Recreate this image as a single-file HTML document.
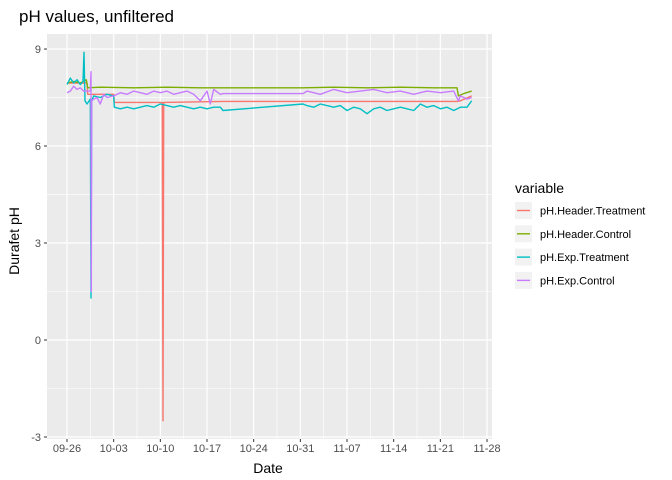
<!DOCTYPE html>
<html><head><meta charset="utf-8"><style>
body{margin:0;background:#fff;}
svg{display:block;font-family:"Liberation Sans",sans-serif;}
</style></head><body>
<svg id="c" width="672" height="480">
<text x="19" y="22" font-size="17" fill="#000">pH values, unfiltered</text>
<rect x="47" y="34" width="445" height="405" fill="#ebebeb"/>
<g id="grid"></g><g id="series"></g><g id="axes"></g>
<text x="268" y="473" font-size="14" text-anchor="middle">Date</text>
<text transform="translate(19,241) rotate(-90)" font-size="14" text-anchor="middle">Durafet pH</text>
<g id="legend">
<text x="515" y="193" font-size="14">variable</text>
</g>
</svg>
<script>
const xTickLabels=["09-26","10-03","10-10","10-17","10-24","10-31","11-07","11-14","11-21","11-28"];
const yTicks=[-3,0,3,6,9];
const seriesNames=["pH.Header.Treatment","pH.Header.Control","pH.Exp.Treatment","pH.Exp.Control"];
const seriesColors=["#F8766D","#7CAE00","#00BFC4","#C77CFF"];
const redT=[0,2,3,3.1,7,7.1,14.3,14.4,14.5,23.4,35.4,45,58.5,59,60.7];
const redV=[7.95,7.95,7.95,7.6,7.6,7.35,7.35,-2.5,7.35,7.38,7.38,7.38,7.38,7.4,7.55];
const greenT=[0,1,2,2.5,2.9,3.1,5,10,15,20,23.4,35.4,40,45,50,55,58.5,58.7,59.5,60.7];
const greenV=[7.95,8.0,7.95,8.0,8.05,7.8,7.82,7.8,7.82,7.8,7.8,7.8,7.82,7.8,7.82,7.8,7.8,7.55,7.62,7.7];
const cyanT=[0,0.5,1,1.5,2,2.4,2.55,2.7,3,3.5,3.6,3.7,4,5,6,7,7.1,8,9,10,11,12,13,14,15,16,17,18,19,20,21,22,23,23.4,35.4,36,37,38,39,40,41,42,43,44,45,46,47,48,49,50,51,52,53,54,55,56,57,58,59,60,60.7];
const cyanV=[7.9,8.1,7.95,8.05,7.9,8.0,8.9,7.4,7.3,7.45,1.3,7.4,7.55,7.5,7.6,7.55,7.2,7.15,7.2,7.15,7.2,7.25,7.2,7.3,7.25,7.2,7.25,7.2,7.15,7.2,7.15,7.2,7.2,7.1,7.3,7.25,7.2,7.3,7.25,7.2,7.25,7.1,7.2,7.15,7.0,7.15,7.2,7.1,7.15,7.2,7.15,7.1,7.3,7.2,7.25,7.15,7.2,7.1,7.2,7.2,7.4];
const purpleT=[0,0.5,1,1.5,2,2.5,3.5,3.6,3.65,3.7,4,4.5,5,5.5,6,7,8,9,10,11,12,13,14,15,16,17,18,19,20,21,21.5,22,23,23.4,35.4,36,38,40,42,44,46,48,50,52,54,56,58,58.7,59,59.5,60,60.7];
const purpleV=[7.65,7.7,7.85,7.75,7.8,7.7,7.7,8.3,1.5,7.4,7.45,7.5,7.3,7.6,7.5,7.55,7.65,7.6,7.7,7.65,7.6,7.7,7.65,7.7,7.6,7.65,7.7,7.6,7.4,7.7,7.3,7.75,7.6,7.62,7.62,7.7,7.6,7.75,7.65,7.7,7.75,7.65,7.7,7.6,7.7,7.65,7.7,7.4,7.55,7.5,7.45,7.5];
const ns="http://www.w3.org/2000/svg";
const PB=439;
const X=d=>67+d*6.667, Y=v=>340-v*32.33;
function mk(t,a,p){const e=document.createElementNS(ns,t);for(const k in a)e.setAttribute(k,a[k]);p.appendChild(e);return e;}
const grid=document.getElementById('grid'),axes=document.getElementById('axes'),ser=document.getElementById('series'),leg=document.getElementById('legend');
for(let i=-1;i<xTickLabels.length;i++){const xm=X(i*7+3.5);if(xm>47&&xm<492){const l=mk('line',{x1:xm,x2:xm,y1:34,y2:PB,stroke:'#fff','stroke-width':0.6},grid);

}}
for(let v=-4.5;v<=9;v+=3){const ym=Y(v);if(ym>34&&ym<PB){const l=mk('line',{x1:47,x2:492,y1:ym,y2:ym,stroke:'#fff','stroke-width':0.6},grid);

}}
xTickLabels.forEach((s,i)=>{const x=X(i*7);
const g=mk('line',{x1:x,x2:x,y1:34,y2:PB,stroke:'#fff','stroke-width':1.2},grid);


mk('line',{x1:x,x2:x,y1:PB,y2:PB+3,stroke:'#333'},axes);
const t=mk('text',{x:x,y:PB+13,'font-size':11,fill:'#4d4d4d','text-anchor':'middle'},axes);t.textContent=s;

});
yTicks.forEach(v=>{const y=Y(v);
const g=mk('line',{x1:47,x2:492,y1:y,y2:y,stroke:'#fff','stroke-width':1.2},grid);


mk('line',{x1:44,x2:47,y1:y,y2:y,stroke:'#333'},axes);
const t=mk('text',{x:41,y:y+4,'font-size':11,fill:'#4d4d4d','text-anchor':'end'},axes);t.textContent=v;

});
const data=[[redT,redV],[greenT,greenV],[cyanT,cyanV],[purpleT,purpleV]];
data.forEach((d,i)=>{const pts=d[0].map((t,j)=>X(t).toFixed(1)+','+Y(d[1][j]).toFixed(1)).join(' ');
const p=mk('polyline',{points:pts,fill:'none',stroke:seriesColors[i],'stroke-width':1.4,'stroke-linejoin':'round'},ser);


const y=202+i*23.3;
const k=mk('rect',{x:515,y:y,width:17,height:17,fill:'#f2f2f2'},leg);


mk('line',{x1:517,x2:530,y1:y+8.5,y2:y+8.5,stroke:seriesColors[i],'stroke-width':1.4},leg);
const t=mk('text',{x:540,y:y+12.5,'font-size':11},leg);t.textContent=seriesNames[i];

});
</script>
</body></html>
